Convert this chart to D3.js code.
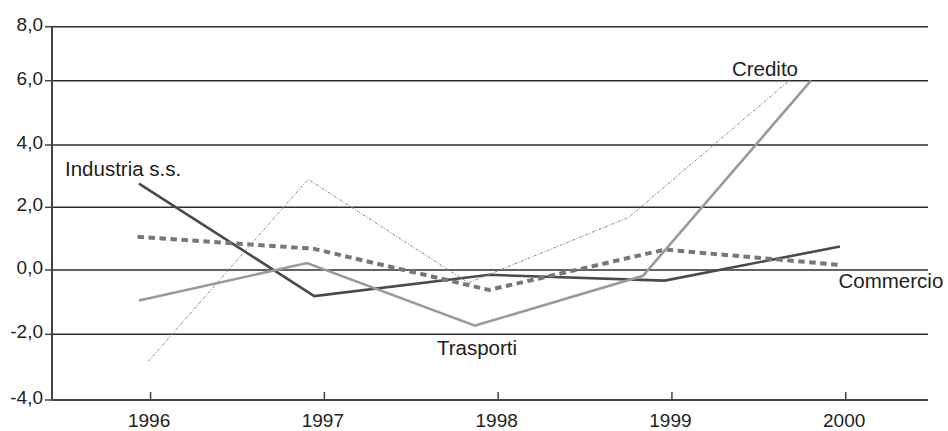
<!DOCTYPE html>
<html>
<head>
<meta charset="utf-8">
<script src="https://cdn.jsdelivr.net/npm/d3@7/dist/d3.min.js"></script>
<style>
  html, body { margin: 0; padding: 0; background: #fff; }
  svg { display: block; }
  text { font-family: "Liberation Sans", Arial, Helvetica, sans-serif; fill: #222; }
</style>
</head>
<body>
<svg id="chart" width="948" height="431"></svg>
<script>
// ---- data ----
const years = [1996, 1997, 1998, 1999, 2000];
const yTicks = [-4, -2, 0, 2, 4, 6, 8];
const industria = [2.76, -0.81, -0.15, -0.33, 0.75];
const commercio = [1.06, 0.68, -0.62, 0.65, 0.16];
const trasporti = [-0.95, 0.22, -1.73, -0.18, 6.0];
const credito = [-2.83, 2.9, -0.4, 1.68, 6.0];
const seriesNames = ["Industria s.s.", "Commercio", "Trasporti", "Credito"];

// ---- layout ----
const svg = d3.select("#chart");
const plotLeft = 52, plotRight = 928;

// original chart has slightly uneven gridline spacing: piecewise linear scale
const y = d3.scaleLinear()
  .domain(yTicks)
  .range([400, 334.3, 270, 207.3, 145, 80.7, 26.7]);

// tick positions on the x axis
const x = d3.scaleLinear().domain([1996, 2000]).range([150.6, 845.7]);

// each series in the original is drawn on its own horizontal extent
const seriesDefs = [
  { name: seriesNames[0], values: industria, xr: [139, 840], color: "#4a4a4a", width: 2.6, dash: null,
    label: { idx: 0, dx: -74, dy: -8, anchor: "start" } },
  { name: seriesNames[1], values: commercio, xr: [137.5, 840.5], color: "#777", width: 4, dash: "6.5,4.5",
    label: { idx: 4, dx: -2, dy: 23, anchor: "start" } },
  { name: seriesNames[2], values: trasporti, xr: [139, 811], color: "#9a9a9a", width: 2.6, dash: null,
    label: { idx: 2, dx: 2, dy: 29, anchor: "middle" } },
  { name: seriesNames[3], values: credito, xr: [148, 789], color: "#8a8a8a", width: 1, dash: "3,1.5,1,1.5",
    label: { idx: 4, dx: 9, dy: -4.5, anchor: "end" } }
];

// gridlines
svg.append("g").selectAll("line")
  .data(yTicks.filter(d => d !== -4))
  .join("line")
  .attr("x1", plotLeft).attr("x2", plotRight)
  .attr("y1", d => y(d)).attr("y2", d => y(d))
  .attr("stroke", "#2e2e2e").attr("stroke-width", 1.5);

// y axis
const fmt = d => d.toFixed(1).replace(".", ",");
const yAxis = svg.append("g");
yAxis.append("line")
  .attr("x1", plotLeft).attr("x2", plotLeft)
  .attr("y1", y(8)).attr("y2", y(-4))
  .attr("stroke", "#444").attr("stroke-width", 2);
yAxis.selectAll("line.tick")
  .data(yTicks).join("line").attr("class", "tick")
  .attr("x1", plotLeft - 7).attr("x2", plotLeft)
  .attr("y1", d => y(d)).attr("y2", d => y(d))
  .attr("stroke", "#444").attr("stroke-width", 1.5);
yAxis.selectAll("text")
  .data(yTicks).join("text")
  .attr("x", plotLeft - 9)
  .attr("y", d => y(d))
  .attr("dy", "0.22em")
  .attr("text-anchor", "end")
  .style("font-size", "19px")
  .text(fmt);

// x axis
const xAxis = svg.append("g");
xAxis.append("line")
  .attr("x1", plotLeft).attr("x2", plotRight)
  .attr("y1", y(-4)).attr("y2", y(-4))
  .attr("stroke", "#444").attr("stroke-width", 2);
xAxis.selectAll("line.tick")
  .data(years).join("line").attr("class", "tick")
  .attr("x1", d => x(d)).attr("x2", d => x(d))
  .attr("y1", y(-4) - 8).attr("y2", y(-4))
  .attr("stroke", "#444").attr("stroke-width", 1.5);
xAxis.selectAll("text")
  .data(years).join("text")
  .attr("x", d => x(d) - 1.5)
  .attr("y", 427)
  .attr("text-anchor", "middle")
  .style("font-size", "19px")
  .text(d => d);

// series lines
seriesDefs.forEach(s => {
  const sx = d3.scaleLinear().domain([1996, 2000]).range(s.xr);
  const line = d3.line().x((d, i) => sx(years[i])).y(d => y(d));
  svg.append("path")
    .datum(s.values)
    .attr("d", line)
    .attr("fill", "none")
    .attr("stroke", s.color)
    .attr("stroke-width", s.width)
    .attr("stroke-linejoin", "miter")
    .attr("stroke-dasharray", s.dash);
  const li = s.label.idx;
  svg.append("text")
    .attr("x", sx(years[li]) + s.label.dx)
    .attr("y", y(s.values[li]) + s.label.dy)
    .attr("text-anchor", s.label.anchor)
    .style("font-size", "20.5px")
    .text(s.name);
});
</script>
</body>
</html>
